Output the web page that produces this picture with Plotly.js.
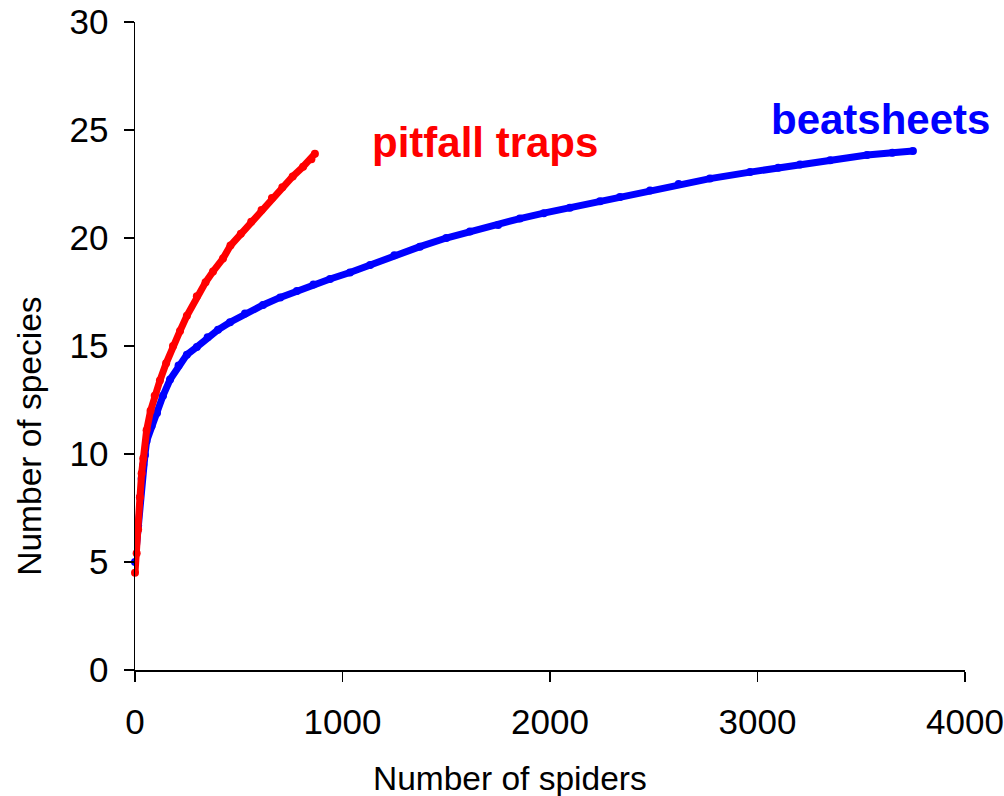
<!DOCTYPE html>
<html>
<head>
<meta charset="utf-8">
<script src="https://cdn.plot.ly/plotly-3.0.1.min.js"></script>
<style>html,body{margin:0;padding:0;background:#fff;}#chart{width:1004px;height:796px;}</style>
</head>
<body>
<div id="chart"></div>
<script>
// Pitfall traps rarefaction curve (red)
const pitfallSpiders = [0, 8, 15, 24, 32, 40, 56, 75, 95, 120, 150, 183, 217, 250, 298, 340, 376, 424, 460, 510, 560, 610, 660, 710, 760, 810, 850, 867];
const pitfallSpecies = [4.5, 5.4, 6.5, 8.0, 9.1, 9.8, 11.1, 12.0, 12.7, 13.4, 14.2, 15.0, 15.7, 16.4, 17.3, 17.95, 18.45, 19.05, 19.65, 20.2, 20.75, 21.3, 21.85, 22.35, 22.85, 23.3, 23.65, 23.9];

// Beatsheets rarefaction curve (blue)
const beatSpiders = [0, 15, 24, 32, 40, 48, 56, 80, 106, 135, 169, 210, 250, 298, 350, 400, 458, 530, 617, 700, 780, 860, 940, 1036, 1133, 1250, 1373, 1500, 1614, 1750, 1855, 1970, 2096, 2241, 2337, 2482, 2620, 2771, 2964, 3100, 3205, 3350, 3528, 3650, 3749];
const beatSpecies = [5.0, 6.7, 8.0, 8.85, 9.5, 9.95, 10.6, 11.3, 11.9, 12.7, 13.45, 14.1, 14.6, 14.95, 15.4, 15.75, 16.1, 16.5, 16.9, 17.25, 17.55, 17.85, 18.1, 18.4, 18.75, 19.2, 19.6, 20.0, 20.3, 20.6, 20.9, 21.15, 21.4, 21.7, 21.9, 22.2, 22.5, 22.75, 23.05, 23.25, 23.4, 23.6, 23.84, 23.95, 24.03];

const xTicks = [0, 1000, 2000, 3000, 4000];
const yTicks = [0, 5, 10, 15, 20, 25, 30];

const FONT = 'Liberation Sans, Arial, sans-serif';

const traces = [
  {
    x: beatSpiders, y: beatSpecies, type: 'scatter', mode: 'lines+markers',
    line: {color: '#0000FF', width: 7},
    marker: {color: '#0000FF', size: 8},
    cliponaxis: false, showlegend: false, name: 'beatsheets'
  },
  {
    x: pitfallSpiders, y: pitfallSpecies, type: 'scatter', mode: 'lines+markers',
    line: {color: '#FF0000', width: 7},
    marker: {color: '#FF0000', size: 8},
    cliponaxis: false, showlegend: false, name: 'pitfall traps'
  }
];

const axisCommon = {
  showline: true, linecolor: '#000', linewidth: 1.5,
  ticks: 'outside', ticklen: 10, tickwidth: 1.5, tickcolor: '#000',
  showgrid: false, zeroline: false,
  tickfont: {family: FONT, size: 35, color: '#000'}
};

const layout = {
  width: 1004, height: 796,
  margin: {l: 135, r: 39, t: 22, b: 126},
  paper_bgcolor: '#fff', plot_bgcolor: '#fff',
  font: {family: FONT, color: '#000'},
  xaxis: Object.assign({}, axisCommon, {
    range: [0, 4000], tickvals: xTicks, ticktext: xTicks.map(String),
    ticklabelstandoff: 10
  }),
  yaxis: Object.assign({}, axisCommon, {
    range: [0, 30], tickvals: yTicks, ticktext: yTicks.map(String),
    ticklabelstandoff: 8
  }),
  annotations: [
    {text: 'Number of spiders', xref: 'paper', yref: 'paper', x: 0.4518, y: -0.1667,
     xanchor: 'center', yanchor: 'middle', showarrow: false,
     font: {family: FONT, size: 33.5, color: '#000'}},
    {text: 'Number of species', xref: 'paper', yref: 'paper', x: -0.1265, y: 0.36,
     xanchor: 'center', yanchor: 'middle', showarrow: false, textangle: -90,
     font: {family: FONT, size: 33.5, color: '#000'}},
    {text: '<b>pitfall traps</b>', xref: 'x', yref: 'y', x: 1687, y: 24.4,
     xanchor: 'center', yanchor: 'middle', showarrow: false,
     font: {family: FONT, size: 42, color: '#FF0000'}},
    {text: '<b>beatsheets</b>', xref: 'x', yref: 'y', x: 3595, y: 25.5,
     xanchor: 'center', yanchor: 'middle', showarrow: false,
     font: {family: FONT, size: 42, color: '#0000FF'}}
  ]
};

Plotly.newPlot('chart', traces, layout, {displayModeBar: false, staticPlot: true});
</script>
</body>
</html>
